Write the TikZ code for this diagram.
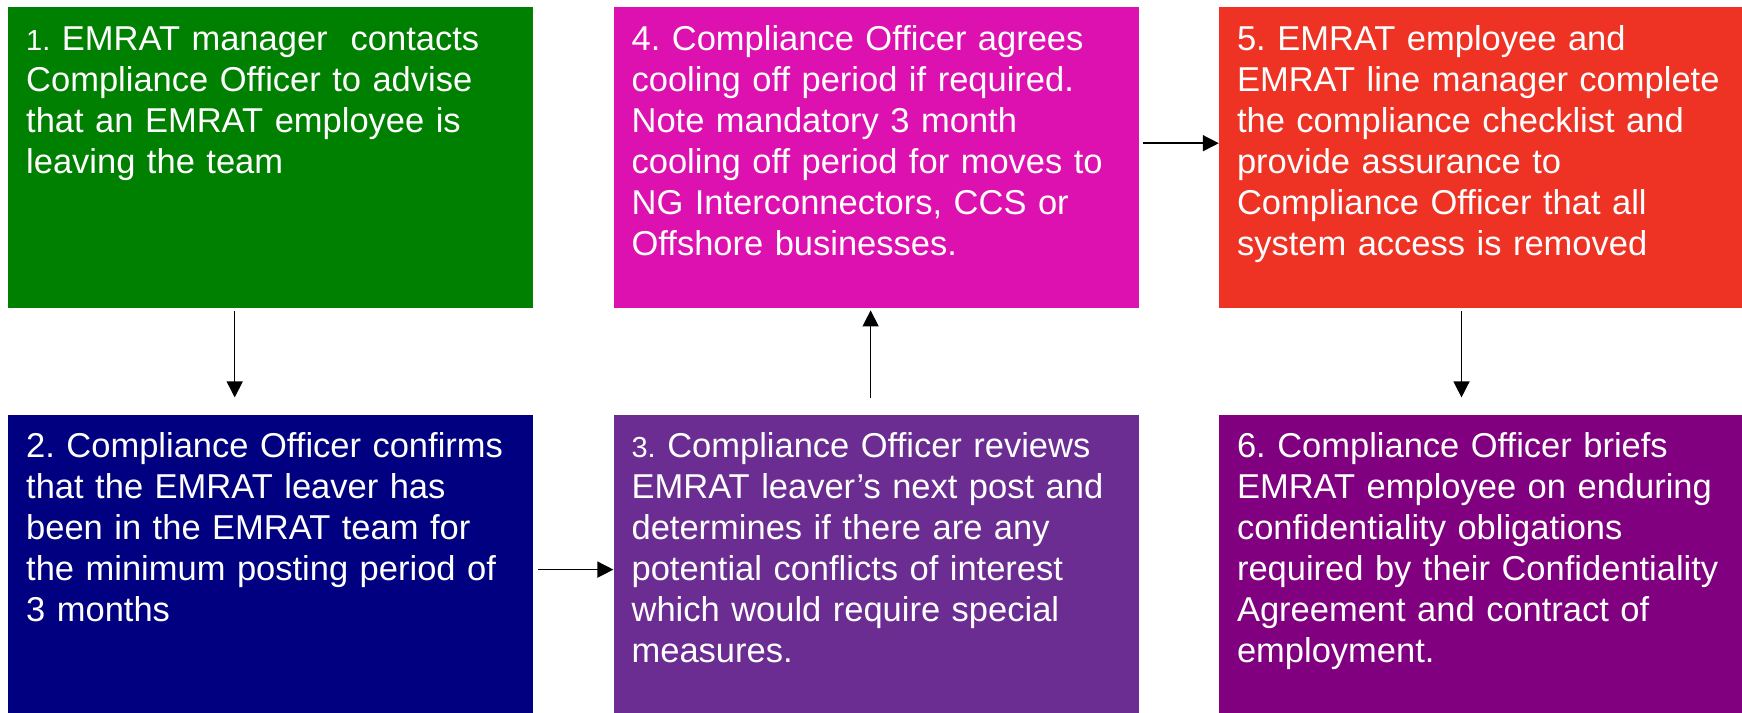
\documentclass[tikz,border=0pt]{standalone}
\usepackage{fontspec}
\setmainfont[Ligatures=NoCommon]{Liberation Sans}
\usetikzlibrary{arrows.meta,positioning}
\definecolor{stepgreen}{HTML}{008000}
\definecolor{stepnavy}{HTML}{000080}
\definecolor{stepviolet}{HTML}{6B2D91}
\definecolor{stepmagenta}{HTML}{DD11AF}
\definecolor{stepred}{HTML}{EE3325}
\definecolor{stepplum}{HTML}{800080}
\newcommand{\smallnum}[1]{{\fontsize{29}{41}\selectfont #1}}
\frenchspacing

\begin{document}
\begin{tikzpicture}[x=1pt, y=-1pt,
	stepbox/.style={rectangle, anchor=north west, text=white, align=left, text width=489pt, inner sep=18pt, text height=25pt, text depth=240pt, font=\fontsize{34.5}{41}\selectfont},
	flow/.style={-{Triangle[length=16pt, width=16pt]}, line width=1.5pt}]
		\useasboundingbox (0,0) rectangle (1742,712);
		
		\node[stepbox, fill=stepgreen] (s1) at (8,7) {\smallnum{1.} EMRAT manager~ contacts\\Compliance Officer to advise\\that an EMRAT employee is\\leaving the team};
		
		\node[stepbox, fill=stepnavy, below=106pt of s1] (s2) {2. Compliance Officer confirms\\that the EMRAT leaver has\\been in the EMRAT team for\\the minimum posting period of\\3 months};
		
		\node[stepbox, fill=stepmagenta, right=80pt of s1] (s4) {4. Compliance Officer agrees\\cooling off period if required.\\Note mandatory 3 month\\cooling off period for moves to\\NG Interconnectors, CCS or\\Offshore businesses.};
		
		\node[stepbox, fill=stepviolet, below=106pt of s4] (s3) {\smallnum{3.} Compliance Officer reviews\\EMRAT leaver’s next post and\\determines if there are any\\potential conflicts of interest\\which would require special\\measures.};
		
		\node[stepbox, fill=stepred, right=80pt of s4] (s5) {5. EMRAT employee and\\EMRAT line manager complete\\the compliance checklist and\\provide assurance to\\Compliance Officer that all\\system access is removed};
		
		\node[stepbox, fill=stepplum, below=106pt of s5] (s6) {6. Compliance Officer briefs\\EMRAT employee on enduring\\confidentiality obligations\\required by their Confidentiality\\Agreement and contract of\\employment.};
		
		\draw[flow] ([xshift=-36pt, yshift=-3pt]s1.south) -- ([xshift=-36pt, yshift=17pt]s2.north);
		
		\draw[flow] ([xshift=5pt, yshift=-4.5pt]s2.east) -- ([yshift=-4.5pt]s3.west);
		
		\draw[flow] ([xshift=-5.5pt, yshift=16pt]s3.north) -- ([xshift=-5.5pt, yshift=-2pt]s4.south);
		
		\draw[flow] ([xshift=4pt, yshift=14.5pt]s4.east) -- ([yshift=14.5pt]s5.west);
		
		\draw[flow] ([xshift=-20pt, yshift=-3pt]s5.south) -- ([xshift=-20pt, yshift=17pt]s6.north);
\end{tikzpicture}
\end{document}
